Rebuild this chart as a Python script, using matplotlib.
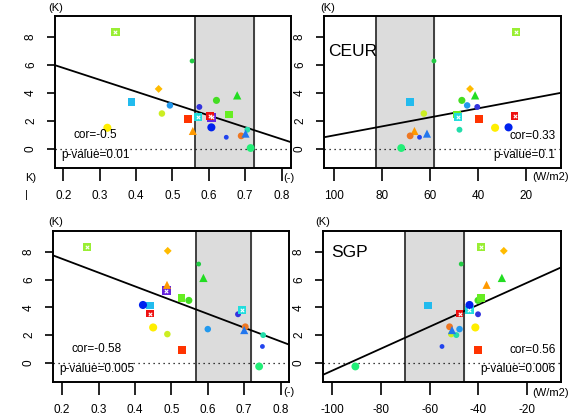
import matplotlib
matplotlib.use("Agg")
import matplotlib.pyplot as plt
import numpy as np

plt.rcParams["font.family"] = ["Liberation Sans", "DejaVu Sans"]

# ---------------------------------------------------------------- data
# one entry per model: colour, marker, size, white inner mark
colors = ["#99ee33", "#22cc44", "#ffbb00", "#22dd22", "#44dd22", "#22bbee",
          "#2299ee", "#3333dd", "#ccee22", "#66ee22", "#22dddd", "#ff3300",
          "#6622dd", "#ee1111", "#22ddaa", "#ffee00", "#0022ee", "#ff9900",
          "#ee7722", "#2244ee", "#2277ee", "#22ee77"]
markers = ["s", "o", "D", "^", "o", "s", "o", "o", "o", "s", "s", "s",
           "s", "s", "o", "o", "o", "^", "o", "o", "^", "o"]
sizes = [36, 12, 16, 36, 26, 30, 22, 18, 22, 32, 34, 30,
         38, 30, 18, 34, 34, 34, 24, 12, 34, 32]
inner = [1, 0, 0, 0, 0, 0, 0, 0, 0, 0, 1, 0, 1, 1, 0, 0, 0, 0, 0, 0, 0, 0]

# temperature change (K): CEUR row and SGP row
y_ceur = [8.35, 6.28, 4.28, 3.82, 3.46, 3.34, 3.10, 2.99, 2.52, 2.45, 2.24, 2.12,
          2.24, 2.35, 1.36, 1.50, 1.53, 1.27, 0.92, 0.82, 1.08, 0.05]
y_sgp = [8.33, 7.12, 8.07, 6.12, 4.50, 4.14, 2.43, 3.50, 2.07, 4.69, 3.83, 0.93,
         5.20, 3.55, 2.00, 2.55, 4.17, 5.62, 2.60, 1.18, 2.36, -0.26]

# predictors
x_tl = [0.343, 0.554, 0.462, 0.678, 0.621, 0.387, 0.493, 0.574, 0.471, 0.655, 0.570, 0.543,
        0.608, 0.603, 0.706, 0.321, 0.607, 0.556, 0.689, 0.648, 0.701, 0.715]
x_tr = [24.2, 58.3, 43.3, 41.2, 46.7, 68.3, 44.5, 40.3, 62.5, 48.7, 48.4, 39.5,
        np.nan, 24.8, 47.7, 32.9, 27.3, 66.4, 68.2, 64.3, 61.2, 71.9]
x_bl = [0.268, 0.575, 0.490, 0.588, 0.548, 0.442, 0.600, 0.683, 0.489, 0.528, 0.695, 0.530,
        0.486, 0.442, 0.752, 0.450, 0.422, 0.488, 0.703, 0.750, 0.700, 0.741]
x_br = [-39.0, -47.0, -29.5, -30.3, -40.1, -60.7, -47.7, -40.1, -51.1, -38.8, -43.6, -40.1,
        np.nan, -47.7, -49.0, -41.2, -43.6, -36.6, -51.8, -54.9, -50.8, -90.5]

# regression lines (intercept, slope), shaded ranges, stats
fit_tl = (7.48, -8.49); fit_tr = (4.18, -0.0323)
fit_bl = (9.48, -9.92); fit_br = (7.35, 0.0791)
band_tl = (0.561, 0.724); band_tr = (82.3, 58.1)
band_bl = (0.569, 0.718); band_br = (-70.3, -46.0)
stat_tl = ("cor=-0.5", "p-value=0.01"); stat_tr = ("cor=0.33", "p-value=0.1")
stat_bl = ("cor=-0.58", "p-value=0.005"); stat_br = ("cor=0.56", "p-value=0.006")

W, H = 578, 419
fig = plt.figure(figsize=(W / 100, H / 100), dpi=100)

def rect(l, r, t, b):
    return [l / W, 1 - b / H, (r - l) / W, (b - t) / H]

def panel(r, x, y, fit, band, stat, xlim, xticks, xlabels, ylim, stat_right, region=None):
    ax = fig.add_axes(r)
    ax.set_xlim(*xlim); ax.set_ylim(*ylim)
    ax.axvspan(*band, color="#dcdcdc", zorder=0)
    for v in band:
        ax.axvline(v, color="#333333", lw=1.3, zorder=1)
    ax.axhline(0, color="black", lw=0.9, ls=(0, (1, 3)), zorder=1)
    ax.axline((0, fit[0]), slope=fit[1], color="black", lw=1.3, zorder=2)
    for i in range(len(x)):
        if np.isnan(x[i]):
            continue
        ax.scatter(x[i], y[i], s=sizes[i], marker=markers[i], color=colors[i],
                   edgecolors="none", zorder=3)
        if inner[i]:
            ax.scatter(x[i], y[i], s=6, marker="x", color="white", lw=0.8, zorder=4)
    ax.set_xticks(xticks); ax.set_xticklabels(xlabels)
    ax.set_yticks([0, 2, 4, 6, 8])
    ax.set_yticklabels(["0", "2", "4", "6", "8"], rotation=90, va="center")
    ax.tick_params(axis="x", direction="out", length=9, width=1.2, pad=7, labelsize=8.5)
    ax.tick_params(axis="y", direction="out", length=6, width=1.2, pad=7, labelsize=8.5)
    for s in ax.spines.values():
        s.set_linewidth(1.4)
    if stat_right:
        ax.text(0.979, 0.21, stat[0], transform=ax.transAxes, ha="right", va="center", fontsize=8.5)
        ax.text(0.975, 0.086, stat[1], transform=ax.transAxes, ha="right", va="center", fontsize=8.5)
    else:
        ax.text(0.08, 0.22, stat[0], transform=ax.transAxes, ha="left", va="center", fontsize=8.5)
        ax.text(0.025, 0.086, stat[1], transform=ax.transAxes, ha="left", va="center", fontsize=8.5)
    if region:
        ax.text(region[1], region[2], region[0], transform=ax.transAxes, ha="left",
                va="center", fontsize=12.5)
    return ax

xt_frac = [0.2, 0.3, 0.4, 0.5, 0.6, 0.7, 0.8]
xl_frac = ["0.2", "0.3", "0.4", "0.5", "0.6", "0.7", "0.8"]
ylim = (-1.38, 9.5)

panel(rect(55, 291, 16, 168), x_tl, y_ceur, fit_tl, band_tl, stat_tl,
      (0.177, 0.826), xt_frac, xl_frac, ylim, False)
panel(rect(324, 561, 16, 168), x_tr, y_ceur, fit_tr, band_tr, stat_tr,
      (104, 5.5), [100, 80, 60, 40, 20], ["100", "80", "60", "40", "20"], ylim, True,
      ("CEUR", 0.017, 0.765))
panel(rect(53, 289, 231, 382), x_bl, y_sgp, fit_bl, band_bl, stat_bl,
      (0.175, 0.823), xt_frac, xl_frac, ylim, False)
panel(rect(323, 561, 231, 382), x_br, y_sgp, fit_br, band_br, stat_br,
      (-103.8, -6.0), [-100, -80, -60, -40, -20], ["-100", "-80", "-60", "-40", "-20"], ylim, True,
      ("SGP", 0.034, 0.86))

# unit labels
def ftext(px, py, s, **kw):
    fig.text(px / W, 1 - py / H, s, ha="center", va="center", fontsize=8, **kw)

ftext(56, 8, "(K)"); ftext(328, 8, "(K)")
ftext(56, 222, "(K)"); ftext(323, 222, "(K)")
ftext(289, 178, "(-)"); ftext(551, 177, "(W/m2)")
ftext(289, 392, "(-)"); ftext(551, 393, "(W/m2)")
ftext(31, 178, "K)")
ftext(26, 195, "|")

fig.savefig("out.png", dpi=100)
